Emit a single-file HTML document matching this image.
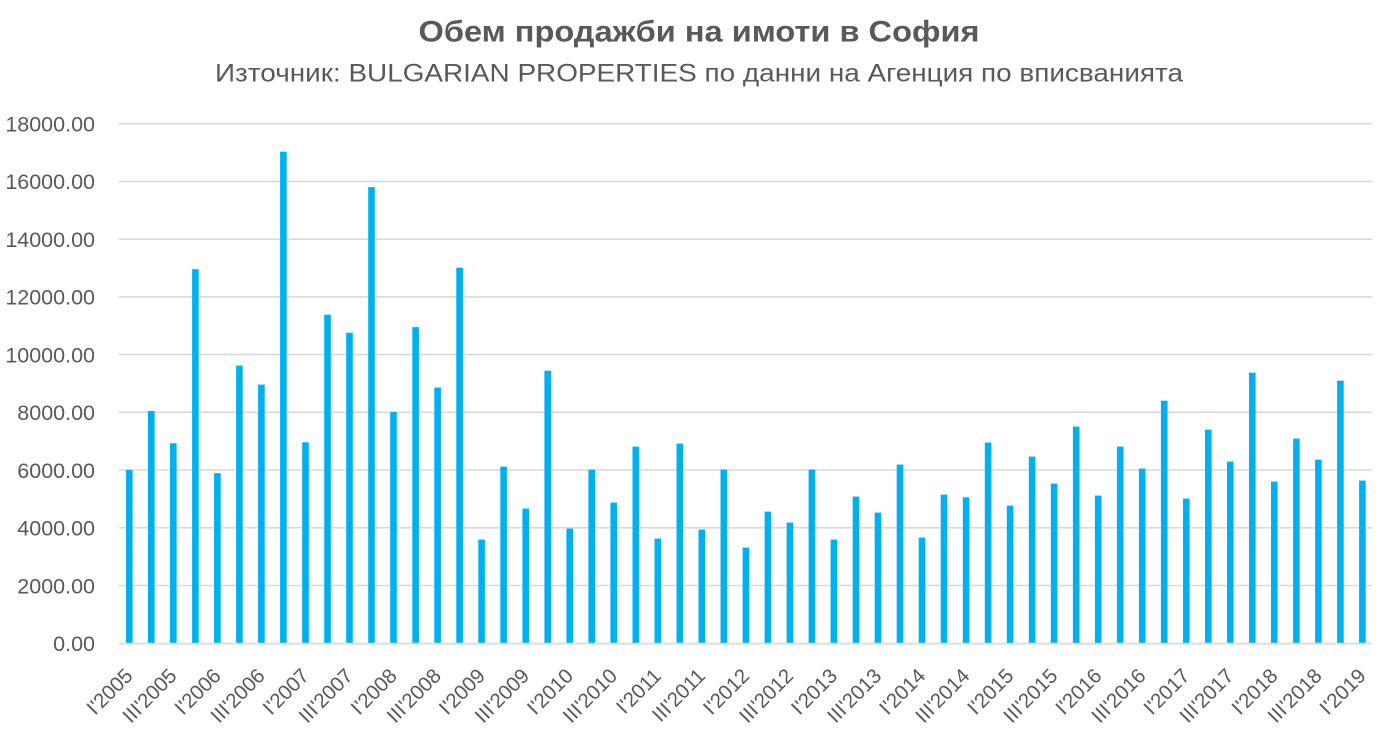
<!DOCTYPE html>
<html><head><meta charset="utf-8"><style>
html,body{margin:0;padding:0;background:#fff;}
svg{display:block;font-family:"Liberation Sans","DejaVu Sans",sans-serif;}
</style></head><body>
<svg width="1398" height="740" viewBox="0 0 1398 740" xmlns="http://www.w3.org/2000/svg">
<rect width="1398" height="740" fill="#fff"/>
<text x="699" y="41.7" text-anchor="middle" font-size="30" font-weight="bold" fill="#595959" textLength="561" lengthAdjust="spacingAndGlyphs">Обем продажби на имоти в София</text>
<text x="699" y="81.7" text-anchor="middle" font-size="25" fill="#595959" textLength="968" lengthAdjust="spacingAndGlyphs">Източник: BULGARIAN PROPERTIES по данни на Агенция по вписванията</text>
<g stroke="#d9d9d9" stroke-width="1.6">
<line x1="119" x2="1372" y1="123.7" y2="123.7"/>
<line x1="119" x2="1372" y1="181.4" y2="181.4"/>
<line x1="119" x2="1372" y1="239.2" y2="239.2"/>
<line x1="119" x2="1372" y1="296.9" y2="296.9"/>
<line x1="119" x2="1372" y1="354.6" y2="354.6"/>
<line x1="119" x2="1372" y1="412.3" y2="412.3"/>
<line x1="119" x2="1372" y1="470.0" y2="470.0"/>
<line x1="119" x2="1372" y1="527.8" y2="527.8"/>
<line x1="119" x2="1372" y1="585.5" y2="585.5"/>
</g>
<g font-size="21.5" fill="#595959" text-anchor="end">
<text x="95" y="131.5">18000.00</text>
<text x="95" y="189.2">16000.00</text>
<text x="95" y="247.0">14000.00</text>
<text x="95" y="304.7">12000.00</text>
<text x="95" y="362.4">10000.00</text>
<text x="95" y="420.1">8000.00</text>
<text x="95" y="477.8">6000.00</text>
<text x="95" y="535.6">4000.00</text>
<text x="95" y="593.3">2000.00</text>
<text x="95" y="651.0">0.00</text>
</g>
<g fill="#00b0f0">
<rect x="126.0" y="470.0" width="6.6" height="173.2"/>
<rect x="148.0" y="411.0" width="6.6" height="232.2"/>
<rect x="170.0" y="443.2" width="6.6" height="200.0"/>
<rect x="192.1" y="269.2" width="6.6" height="374.0"/>
<rect x="214.1" y="473.2" width="6.6" height="170.0"/>
<rect x="236.1" y="365.6" width="6.6" height="277.6"/>
<rect x="258.1" y="384.6" width="6.6" height="258.6"/>
<rect x="280.1" y="151.7" width="6.6" height="491.5"/>
<rect x="302.2" y="442.3" width="6.6" height="200.9"/>
<rect x="324.2" y="314.7" width="6.6" height="328.5"/>
<rect x="346.2" y="332.7" width="6.6" height="310.5"/>
<rect x="368.2" y="187.1" width="6.6" height="456.1"/>
<rect x="390.2" y="412.0" width="6.6" height="231.2"/>
<rect x="412.3" y="327.1" width="6.6" height="316.1"/>
<rect x="434.3" y="387.6" width="6.6" height="255.6"/>
<rect x="456.3" y="267.7" width="6.6" height="375.5"/>
<rect x="478.3" y="539.6" width="6.6" height="103.6"/>
<rect x="500.3" y="466.6" width="6.6" height="176.6"/>
<rect x="522.4" y="508.6" width="6.6" height="134.6"/>
<rect x="544.4" y="370.7" width="6.6" height="272.5"/>
<rect x="566.4" y="528.6" width="6.6" height="114.6"/>
<rect x="588.4" y="469.6" width="6.6" height="173.6"/>
<rect x="610.4" y="502.6" width="6.6" height="140.6"/>
<rect x="632.5" y="446.6" width="6.6" height="196.6"/>
<rect x="654.5" y="538.6" width="6.6" height="104.6"/>
<rect x="676.5" y="443.6" width="6.6" height="199.6"/>
<rect x="698.5" y="529.6" width="6.6" height="113.6"/>
<rect x="720.5" y="469.6" width="6.6" height="173.6"/>
<rect x="742.6" y="547.6" width="6.6" height="95.6"/>
<rect x="764.6" y="511.6" width="6.6" height="131.6"/>
<rect x="786.6" y="522.6" width="6.6" height="120.6"/>
<rect x="808.6" y="469.6" width="6.6" height="173.6"/>
<rect x="830.6" y="539.6" width="6.6" height="103.6"/>
<rect x="852.7" y="496.6" width="6.6" height="146.6"/>
<rect x="874.7" y="512.6" width="6.6" height="130.6"/>
<rect x="896.7" y="464.6" width="6.6" height="178.6"/>
<rect x="918.7" y="537.6" width="6.6" height="105.6"/>
<rect x="940.7" y="494.6" width="6.6" height="148.6"/>
<rect x="962.8" y="497.3" width="6.6" height="145.9"/>
<rect x="984.8" y="442.6" width="6.6" height="200.6"/>
<rect x="1006.8" y="505.6" width="6.6" height="137.6"/>
<rect x="1028.8" y="456.6" width="6.6" height="186.6"/>
<rect x="1050.8" y="483.6" width="6.6" height="159.6"/>
<rect x="1072.9" y="426.6" width="6.6" height="216.6"/>
<rect x="1094.9" y="495.6" width="6.6" height="147.6"/>
<rect x="1116.9" y="446.6" width="6.6" height="196.6"/>
<rect x="1138.9" y="468.6" width="6.6" height="174.6"/>
<rect x="1160.9" y="400.7" width="6.6" height="242.5"/>
<rect x="1183.0" y="498.6" width="6.6" height="144.6"/>
<rect x="1205.0" y="429.6" width="6.6" height="213.6"/>
<rect x="1227.0" y="461.6" width="6.6" height="181.6"/>
<rect x="1249.0" y="372.7" width="6.6" height="270.5"/>
<rect x="1271.0" y="481.6" width="6.6" height="161.6"/>
<rect x="1293.1" y="438.6" width="6.6" height="204.6"/>
<rect x="1315.1" y="459.6" width="6.6" height="183.6"/>
<rect x="1337.1" y="380.7" width="6.6" height="262.5"/>
<rect x="1359.1" y="480.6" width="6.6" height="162.6"/>
</g>
<line x1="119" x2="1372" y1="643.6" y2="643.6" stroke="#d9d9d9" stroke-width="1.8"/>
<g font-size="20.5" fill="#595959" text-anchor="end">
<text transform="translate(134.0,677) rotate(-45)">I'2005</text>
<text transform="translate(178.0,677) rotate(-45)">III'2005</text>
<text transform="translate(222.1,677) rotate(-45)">I'2006</text>
<text transform="translate(266.1,677) rotate(-45)">III'2006</text>
<text transform="translate(310.2,677) rotate(-45)">I'2007</text>
<text transform="translate(354.2,677) rotate(-45)">III'2007</text>
<text transform="translate(398.2,677) rotate(-45)">I'2008</text>
<text transform="translate(442.3,677) rotate(-45)">III'2008</text>
<text transform="translate(486.3,677) rotate(-45)">I'2009</text>
<text transform="translate(530.4,677) rotate(-45)">III'2009</text>
<text transform="translate(574.4,677) rotate(-45)">I'2010</text>
<text transform="translate(618.4,677) rotate(-45)">III'2010</text>
<text transform="translate(662.5,677) rotate(-45)">I'2011</text>
<text transform="translate(706.5,677) rotate(-45)">III'2011</text>
<text transform="translate(750.6,677) rotate(-45)">I'2012</text>
<text transform="translate(794.6,677) rotate(-45)">III'2012</text>
<text transform="translate(838.6,677) rotate(-45)">I'2013</text>
<text transform="translate(882.7,677) rotate(-45)">III'2013</text>
<text transform="translate(926.7,677) rotate(-45)">I'2014</text>
<text transform="translate(970.8,677) rotate(-45)">III'2014</text>
<text transform="translate(1014.8,677) rotate(-45)">I'2015</text>
<text transform="translate(1058.8,677) rotate(-45)">III'2015</text>
<text transform="translate(1102.9,677) rotate(-45)">I'2016</text>
<text transform="translate(1146.9,677) rotate(-45)">III'2016</text>
<text transform="translate(1191.0,677) rotate(-45)">I'2017</text>
<text transform="translate(1235.0,677) rotate(-45)">III'2017</text>
<text transform="translate(1279.0,677) rotate(-45)">I'2018</text>
<text transform="translate(1323.1,677) rotate(-45)">III'2018</text>
<text transform="translate(1367.1,677) rotate(-45)">I'2019</text>
</g>
</svg>
</body></html>
